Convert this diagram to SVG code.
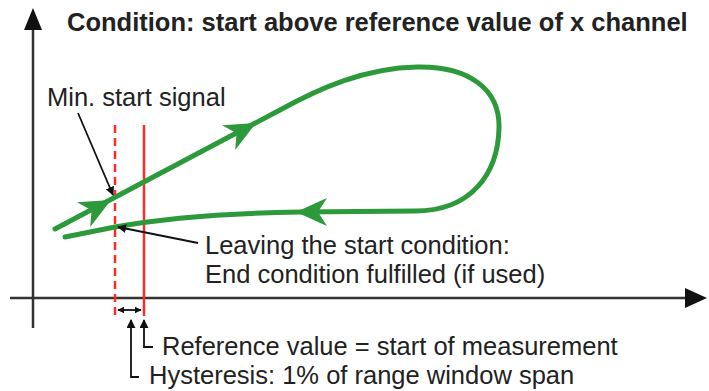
<svg xmlns="http://www.w3.org/2000/svg" width="709" height="391" viewBox="0 0 709 391">
<style>
text{font-family:"Liberation Sans",Arial,sans-serif;font-size:25.5px;fill:#222}
.title{font-weight:bold}
.axis{stroke:#333;stroke-width:2.5;fill:none}
.curve{stroke:#2c9a3a;stroke-width:5;fill:none;stroke-linecap:round;stroke-linejoin:round}
.garrow{fill:#2c9a3a}
.ptr{stroke:#111;stroke-width:1.8;fill:none}
.red{stroke:#ff2a2a;stroke-width:2.5;fill:none}
</style>
<defs>
<marker id="ah" viewBox="0 0 10 10" refX="9" refY="5" markerWidth="5" markerHeight="5" orient="auto-start-reverse" markerUnits="strokeWidth">
<path d="M0,0 L10,5 L0,10 Z" fill="#111"/>
</marker>
<marker id="ahs" viewBox="0 0 10 10" refX="9" refY="5" markerWidth="4" markerHeight="4" orient="auto-start-reverse" markerUnits="strokeWidth">
<path d="M0,0 L10,5 L0,10 Z" fill="#111"/>
</marker>
<path id="ga" d="M0,0 L-31,-14 L-22,0 L-31,14 Z"/>
</defs>

<g id="axes">
<line class="axis" x1="33" y1="26" x2="33" y2="328"/>
<path d="M33,8 L24,30 L42,30 Z" fill="#111"/>
<line class="axis" x1="10" y1="298" x2="688" y2="298"/>
<path d="M707,298 L685,288 L685,308 Z" fill="#111"/>
</g>

<g id="title">
<text class="title" x="67" y="31">Condition: start above reference value of x channel</text>
</g>

<g id="thresholds">
<line class="red" x1="115" y1="125" x2="115" y2="316" stroke-dasharray="8,5"/>
<line class="red" x1="144" y1="125" x2="144" y2="316"/>
</g>

<g id="loop">
<path class="curve" d="M55,229 L280,110 C320,88 365,68 417,67 C470,66 500,90 499,128 C498,175 470,211 415,211 L300,212 C230,213 170,217 115,227 L65,237"/>
<use href="#ga" class="garrow" transform="translate(111,200) rotate(-28)"/>
<use href="#ga" class="garrow" transform="translate(256,123) rotate(-28)"/>
<use href="#ga" class="garrow" transform="translate(296,212) rotate(180)"/>
</g>

<g id="connectors">
<line class="ptr" x1="78" y1="113" x2="113" y2="195" marker-end="url(#ah)"/>
<line class="ptr" x1="198" y1="243" x2="118" y2="227" marker-end="url(#ah)"/>
<line class="ptr" x1="118" y1="310" x2="141" y2="310" marker-start="url(#ahs)" marker-end="url(#ahs)"/>
<path class="ptr" d="M153,347 L144,347 L144,320" marker-end="url(#ah)"/>
<path class="ptr" d="M139,377 L131,377 L131,320" marker-end="url(#ah)"/>
</g>

<g id="label-min">
<text x="47" y="106">Min. start signal</text>
</g>
<g id="label-leaving">
<text x="205" y="254">Leaving the start condition:</text>
<text x="205" y="283">End condition fulfilled (if used)</text>
</g>
<g id="label-reference">
<text x="162" y="355">Reference value = start of measurement</text>
</g>
<g id="label-hysteresis">
<text x="149" y="384">Hysteresis: 1% of range window span</text>
</g>
</svg>
